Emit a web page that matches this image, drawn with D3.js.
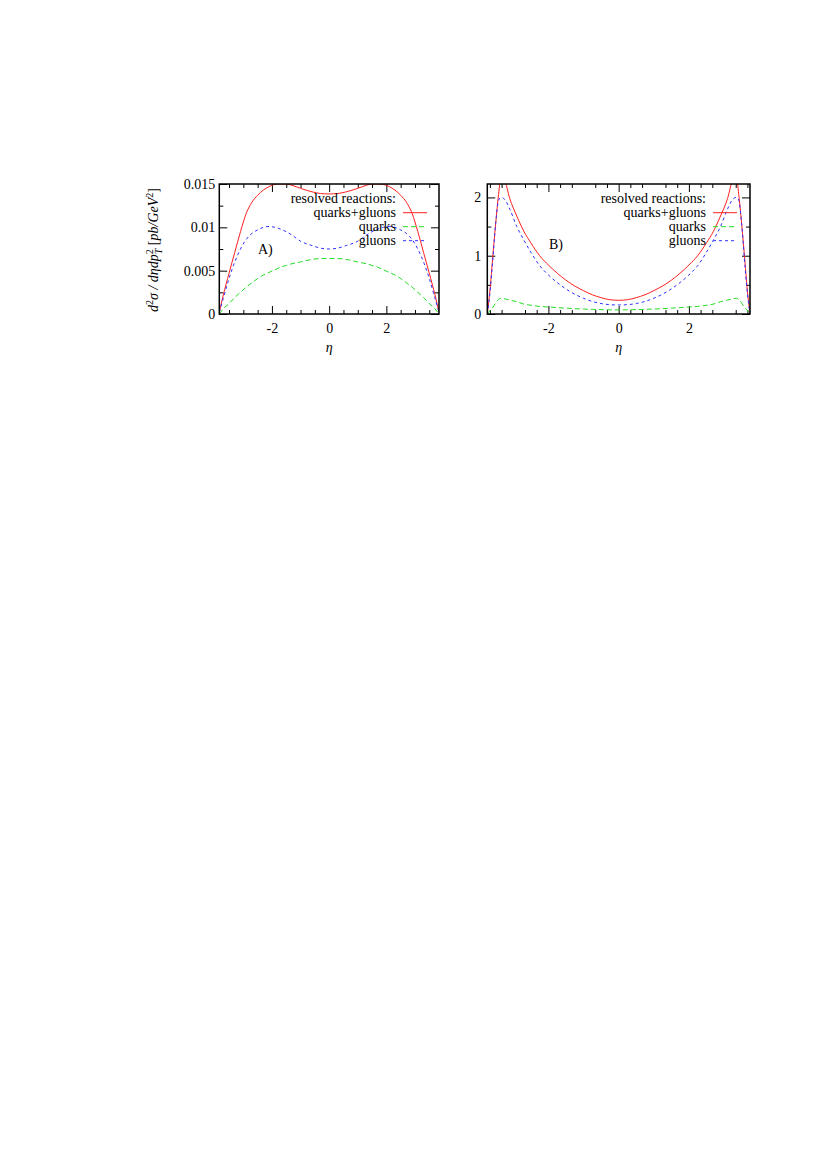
<!DOCTYPE html>
<html><head><meta charset="utf-8">
<script src="https://cdn.jsdelivr.net/npm/d3@7"></script>
<style>
body{margin:0;background:#fff}
svg{display:block}
text{font-family:"Liberation Serif","DejaVu Serif",serif;fill:#000}
</style></head>
<body><svg id="c" width="828" height="1170"></svg>
<script>
// ---------- data: panel A ----------
const etaA = [-3.84,-3.7,-3.5,-3.3,-3.1,-2.9,-2.7,-2.5,-2.3,-2.1,-1.9,-1.7,-1.5,-1.3,-1.0,-0.6,-0.3,0,
              0.3,0.6,1.0,1.3,1.5,1.7,1.9,2.1,2.3,2.5,2.7,2.9,3.1,3.3,3.5,3.7,3.84];
const quarksGluonsA = [0.0002,0.0022,0.0047,0.0071,0.0095,0.0116,0.0129,0.0137,0.0143,0.0147,0.01495,0.0150,0.0150,0.01485,0.0145,0.0141,0.0139,0.01385,
              0.0139,0.0141,0.0145,0.01485,0.0150,0.0150,0.01495,0.0147,0.0143,0.0137,0.0129,0.0116,0.0095,0.0071,0.0047,0.0022,0.0002];
const quarksA = [0.0000,0.0006,0.0012,0.0019,0.0025,0.0031,0.0036,0.0041,0.0045,0.0048,0.0051,0.0054,0.0056,0.0058,0.0060,0.0063,0.0064,0.0064,
              0.0064,0.0063,0.0060,0.0058,0.0056,0.0054,0.0051,0.0048,0.0045,0.0041,0.0036,0.0031,0.0025,0.0019,0.0012,0.0006,0.0000];
const gluonsA = [0.0002,0.0018,0.0041,0.0060,0.0075,0.0086,0.0093,0.0097,0.0100,0.0101,0.0100,0.0098,0.0095,0.0091,0.0084,0.0079,0.0076,0.0075,
              0.0076,0.0079,0.0084,0.0091,0.0095,0.0098,0.0100,0.0101,0.0100,0.0097,0.0093,0.0086,0.0075,0.0060,0.0041,0.0018,0.0002];

// ---------- data: panel B ----------
const etaB = [-3.74,-3.65,-3.6,-3.5,-3.42,-3.35,-3.25,-3.1,-2.9,-2.7,-2.5,-2.25,-2.0,-1.75,-1.5,-1.25,-1.0,-0.75,-0.5,-0.25,0,
              0.25,0.5,0.75,1.0,1.25,1.5,1.75,2.0,2.25,2.5,2.7,2.9,3.1,3.25,3.35,3.42,3.5,3.6,3.65,3.74];
const quarksGluonsB = [0,0.5,0.87,1.56,2.05,2.35,2.3,1.98,1.68,1.42,1.22,1.0,0.84,0.70,0.58,0.48,0.40,0.33,0.28,0.245,0.235,
              0.245,0.28,0.33,0.40,0.48,0.58,0.70,0.84,1.0,1.22,1.42,1.68,1.98,2.3,2.35,2.05,1.56,0.87,0.5,0];
const quarksB = [0,0.07,0.10,0.19,0.25,0.27,0.26,0.24,0.21,0.17,0.15,0.13,0.12,0.11,0.10,0.092,0.085,0.08,0.075,0.072,0.07,
              0.072,0.075,0.08,0.085,0.092,0.10,0.11,0.12,0.13,0.15,0.17,0.21,0.24,0.26,0.27,0.25,0.19,0.10,0.07,0];
const gluonsB = [0,0.45,0.8,1.56,1.95,2.0,1.97,1.8,1.5,1.27,1.06,0.83,0.67,0.54,0.43,0.34,0.27,0.215,0.18,0.16,0.155,
              0.16,0.18,0.215,0.27,0.34,0.43,0.54,0.67,0.83,1.06,1.27,1.5,1.8,1.97,2.0,1.95,1.56,0.8,0.45,0];

// ---------- ticks / labels ----------
const xTicks = [-2,0,2];
const xTickLabels = ["-2","0","2"];
const xMinorA = [-3.5,-3,-2.5,-1.5,-1,-0.5,0.5,1,1.5,2.5,3,3.5];
const xMinorB = [-11/3,-10/3,-8/3,-7/3,-5/3,-4/3,-2/3,-1/3,1/3,2/3,4/3,5/3,7/3,8/3,10/3,11/3];
const yTicksA = [0,0.005,0.01,0.015];
const yTickLabelsA = ["0","0.005","0.01","0.015"];
const yMinorA = [0.0025,0.0075,0.0125];
const yTicksB = [0,1,2];
const yTickLabelsB = ["0","1","2"];
const yMinorB = [0.5,1.5];
const legendTitle = "resolved reactions:";
const seriesNames = ["quarks+gluons","quarks","gluons"];
const colors = ["#ff2020","#22dd22","#3030ff"];
const dashes = [null,"5,3","3,3"];

const svg = d3.select("#c");
const FONT = '"Liberation Serif","DejaVu Serif",serif';

function panel(o){
  const x = d3.scaleLinear().domain(o.xdom).range([o.x0,o.x1]);
  const y = d3.scaleLinear().domain(o.ydom).range([o.y1,o.y0]);
  const g = svg.append("g");
  const id = "clip"+o.name;
  svg.append("defs").append("clipPath").attr("id",id).append("rect")
    .attr("x",o.x0).attr("y",o.y0).attr("width",o.x1-o.x0).attr("height",o.y1-o.y0);

  const styleAxis = a => { a.attr("font-family",FONT); a.select(".domain").remove(); a.selectAll("line").attr("stroke","#000").attr("stroke-width",1); a.selectAll("text").style("font-size","14px").style("font-family",FONT); };
  // bottom
  g.append("g").attr("transform",`translate(0,${o.y1})`)
    .call(d3.axisBottom(x).tickValues(xTicks).tickSize(-8).tickPadding(9).tickFormat((d,i)=>xTickLabels[i])).call(styleAxis);
  g.append("g").attr("transform",`translate(0,${o.y1})`)
    .call(d3.axisBottom(x).tickValues(o.xMinor).tickSize(-4).tickFormat("")).call(styleAxis);
  // top
  g.append("g").attr("transform",`translate(0,${o.y0})`)
    .call(d3.axisTop(x).tickValues(xTicks).tickSize(-8).tickFormat("")).call(styleAxis);
  g.append("g").attr("transform",`translate(0,${o.y0})`)
    .call(d3.axisTop(x).tickValues(o.xMinor).tickSize(-4).tickFormat("")).call(styleAxis);
  // left
  g.append("g").attr("transform",`translate(${o.x0},0)`)
    .call(d3.axisLeft(y).tickValues(o.yTicks).tickSize(-8).tickPadding(o.ypad).tickFormat((d,i)=>o.yLabels[i])).call(styleAxis);
  g.append("g").attr("transform",`translate(${o.x0},0)`)
    .call(d3.axisLeft(y).tickValues(o.yMinor).tickSize(-4).tickFormat("")).call(styleAxis);
  // right
  g.append("g").attr("transform",`translate(${o.x1},0)`)
    .call(d3.axisRight(y).tickValues(o.yTicks).tickSize(-8).tickFormat("")).call(styleAxis);
  g.append("g").attr("transform",`translate(${o.x1},0)`)
    .call(d3.axisRight(y).tickValues(o.yMinor).tickSize(-4).tickFormat("")).call(styleAxis);

  // curves
  const cg = g.append("g").attr("clip-path",`url(#${id})`);
  const line = d3.line().x(d=>x(d[0])).y(d=>y(d[1])).curve(d3.curveMonotoneX);
  o.series.forEach((s,i)=>{
    cg.append("path").datum(o.eta.map((e,k)=>[e,s[k]]))
      .attr("d",line).attr("fill","none").attr("stroke",colors[i]).attr("stroke-width",1)
      .attr("stroke-dasharray",dashes[i]);
  });

  // frame
  g.append("rect").attr("x",o.x0).attr("y",o.y0).attr("width",o.x1-o.x0).attr("height",o.y1-o.y0)
    .attr("fill","none").attr("stroke","#000").attr("stroke-width",1.5);

  // legend
  const lg = g.append("g");
  lg.append("text").attr("x",o.legX).attr("y",203).attr("text-anchor","end").style("font-size","14px").text(legendTitle);
  seriesNames.forEach((n,i)=>{
    const by = 217+14*i;
    lg.append("text").attr("x",o.legX).attr("y",by).attr("text-anchor","end").style("font-size","14px").text(n);
    lg.append("line").attr("x1",o.legX+7).attr("x2",o.legX+31).attr("y1",by-4.3).attr("y2",by-4.3)
      .attr("stroke",colors[i]).attr("stroke-width",1).attr("stroke-dasharray",dashes[i]);
  });
  // panel tag
  g.append("text").attr("x",o.tagX).attr("y",o.tagY).style("font-size","14px").text(o.tag);
  // x label
  g.append("text").attr("x",x(0)).attr("y",352).attr("text-anchor","middle").style("font-size","14px").style("font-style","italic").text("η");
  return {x,y};
}

panel({name:"A",xdom:[-3.84,3.84],ydom:[0,0.015],x0:219.3,x1:439,y0:184,y1:314,
  xMinor:xMinorA,yTicks:yTicksA,yLabels:yTickLabelsA,yMinor:yMinorA,ypad:4,
  eta:etaA,series:[quarksGluonsA,quarksA,gluonsA],legX:396,tag:"A)",tagX:258,tagY:254});
panel({name:"B",xdom:[-3.74,3.74],ydom:[0,2.23],x0:487.3,x1:750,y0:184,y1:314,
  xMinor:xMinorB,yTicks:yTicksB,yLabels:yTickLabelsB,yMinor:yMinorB,ypad:6,
  eta:etaB,series:[quarksGluonsB,quarksB,gluonsB],legX:706,tag:"B)",tagX:549,tagY:249});

// y axis label (panel A)
const yl = svg.append("text").attr("transform","translate(158,250) rotate(-90)")
  .attr("text-anchor","middle").style("font-size","14px").style("font-style","italic");
yl.append("tspan").text("d");
yl.append("tspan").attr("dy",-5).style("font-size","10px").style("font-style","normal").text("2");
yl.append("tspan").attr("dy",5).text("σ / dηdp");
yl.append("tspan").attr("dy",-5).style("font-size","10px").style("font-style","normal").text("2");
yl.append("tspan").attr("dx",-5).attr("dy",9).style("font-size","10px").text("T");
yl.append("tspan").attr("dy",-4).style("font-style","normal").text(" [");
yl.append("tspan").text("pb/GeV");
yl.append("tspan").attr("dy",-5).style("font-size","10px").style("font-style","normal").text("2");
yl.append("tspan").attr("dy",5).style("font-style","normal").text("]");
</script></body></html>
